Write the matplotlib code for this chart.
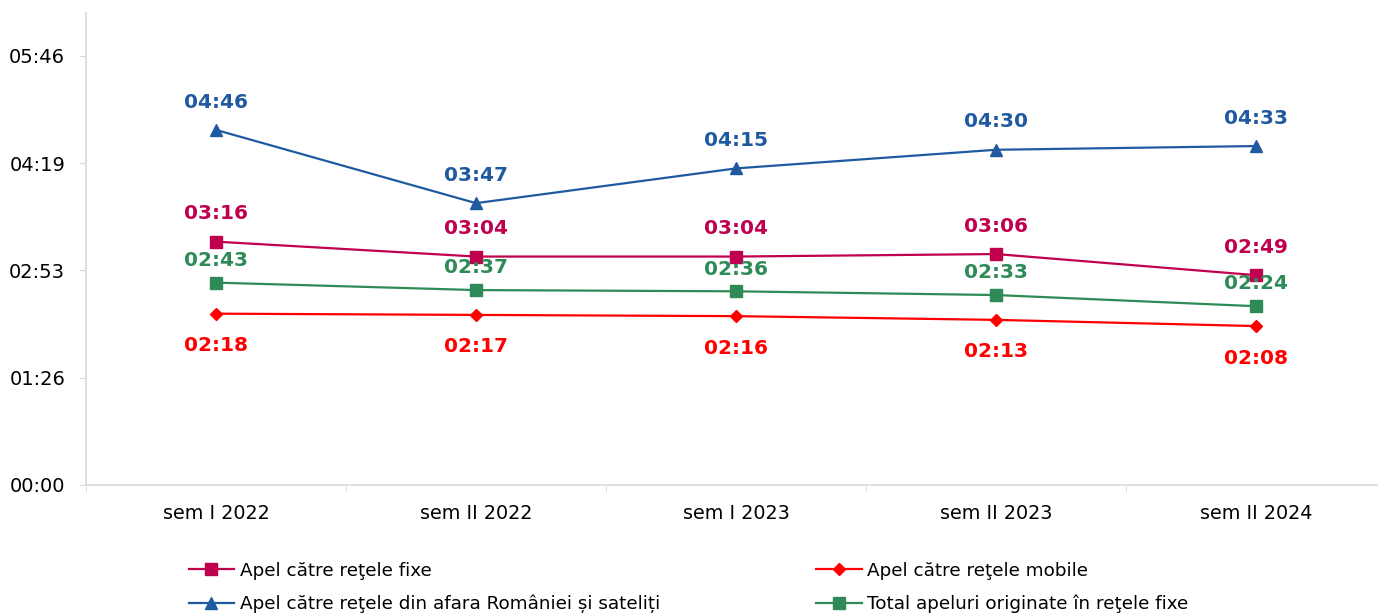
import matplotlib
matplotlib.use("Agg")
import matplotlib.pyplot as plt
from matplotlib.ticker import FixedLocator, FuncFormatter

# durations in seconds
categories = ["sem I 2022", "sem II 2022", "sem I 2023", "sem II 2023", "sem II 2024"]
fixe = [196, 184, 184, 186, 169]
mobile = [138, 137, 136, 133, 128]
externe = [286, 227, 255, 270, 273]
total = [163, 157, 156, 153, 144]

DAY = 86400.0
y_ticks = [0, 0.001 * DAY, 0.002 * DAY, 0.003 * DAY, 0.004 * DAY]

c_fixe = "#C0004F"
c_mobile = "#FF0000"
c_ext = "#1F5AA0"
c_total = "#2E8B57"

plt.rcParams["font.family"] = ["DejaVu Sans"]


def mmss(v, pos=None):
    v = int(round(v))
    return f"{v // 60:02d}:{v % 60:02d}"


fig = plt.figure(figsize=(13.78, 6.16), dpi=100)
ax = fig.add_axes([86 / 1378, 1 - 485 / 616, 1300 / 1378, 472 / 616])

x = list(range(len(categories)))
series = [
    (fixe, c_fixe, "s", 8, "Apel către reţele fixe", 20),
    (mobile, c_mobile, "D", 6, "Apel către reţele mobile", -23),
    (externe, c_ext, "^", 8, "Apel către reţele din afara României și sateliți", 20),
    (total, c_total, "s", 9, "Total apeluri originate în reţele fixe", 16),
]
handles = {}
for vals, col, mk, ms, lab, off in series:
    (h,) = ax.plot(x, vals, color=col, marker=mk, markersize=ms, linewidth=1.6, label=lab)
    handles[lab] = h
    for xi, v in zip(x, vals):
        ax.annotate(mmss(v), (xi, v), xytext=(0, off), textcoords="offset points",
                    ha="center", va="center", color=col, fontsize=14.5, fontweight="bold")

ax.set_xlim(-0.5, len(categories) - 0.5)
ax.set_ylim(0, 0.0044 * DAY)
ax.yaxis.set_major_locator(FixedLocator(y_ticks))
ax.yaxis.set_major_formatter(FuncFormatter(mmss))
ax.set_xticks(x)
ax.set_xticklabels(categories)
ax.xaxis.set_minor_locator(FixedLocator([i - 0.5 for i in x]))
ax.tick_params(axis="x", which="major", length=0, pad=14, labelsize=13.8)
ax.tick_params(axis="x", which="minor", length=5, color="#D9D9D9", direction="out")
ax.tick_params(axis="y", length=5, color="#D9D9D9", pad=10, labelsize=14)
for s in ["top", "right"]:
    ax.spines[s].set_visible(False)
for s in ["left", "bottom"]:
    ax.spines[s].set_color("#D9D9D9")
    ax.spines[s].set_linewidth(1.2)

order = ["Apel către reţele fixe", "Apel către reţele din afara României și sateliți",
         "Apel către reţele mobile", "Total apeluri originate în reţele fixe"]
fig.legend([handles[k] for k in order], order, ncol=2, frameon=False, fontsize=13.2,
           loc="lower left", bbox_to_anchor=(172 / 1378, -0.022),
           columnspacing=8.5, handlelength=2.5, handletextpad=0.3, labelspacing=0.8)

fig.savefig("out.png", dpi=100)
